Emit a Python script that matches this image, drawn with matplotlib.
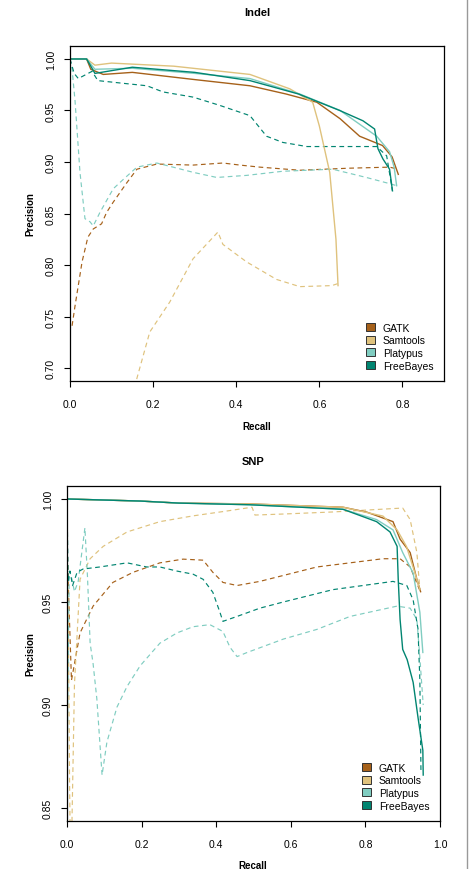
import matplotlib
matplotlib.use("Agg")
import matplotlib.pyplot as plt
from matplotlib.patches import Patch
from matplotlib.lines import Line2D

plt.rcParams['font.family'] = ['Liberation Sans', 'DejaVu Sans']

tools = ["GATK", "Samtools", "Platypus", "FreeBayes"]
colors = ["#A6611A", "#DFC27D", "#80CDC1", "#018571"]

# ---- Indel panel: (recall, precision) ----
indel_solid_x = {
    "GATK":      [0.0, 0.04, 0.05, 0.08, 0.15, 0.30, 0.433, 0.52, 0.594, 0.65, 0.697, 0.752, 0.775, 0.79],
    "Samtools":  [0.0, 0.04, 0.06, 0.10, 0.25, 0.433, 0.529, 0.584, 0.60, 0.625, 0.64, 0.645],
    "Platypus":  [0.0, 0.04, 0.06, 0.15, 0.30, 0.433, 0.553, 0.65, 0.738, 0.769, 0.78, 0.786],
    "FreeBayes": [0.0, 0.04, 0.06, 0.15, 0.30, 0.433, 0.55, 0.649, 0.705, 0.733, 0.741, 0.753, 0.769, 0.776],
}
indel_solid_y = {
    "GATK":      [1.0, 1.0, 0.99, 0.985, 0.987, 0.980, 0.974, 0.966, 0.958, 0.942, 0.925, 0.916, 0.905, 0.888],
    "Samtools":  [1.0, 1.0, 0.994, 0.996, 0.993, 0.985, 0.971, 0.958, 0.935, 0.89, 0.825, 0.78],
    "Platypus":  [1.0, 1.0, 0.990, 0.991, 0.986, 0.981, 0.966, 0.950, 0.925, 0.91, 0.895, 0.877],
    "FreeBayes": [1.0, 1.0, 0.986, 0.992, 0.987, 0.979, 0.966, 0.950, 0.94, 0.932, 0.913, 0.903, 0.893, 0.872],
}
indel_dash_x = {
    "GATK":      [0.005, 0.012, 0.029, 0.043, 0.056, 0.076, 0.088, 0.104, 0.137, 0.161, 0.209, 0.296, 0.368, 0.409, 0.457, 0.553, 0.673, 0.769, 0.79],
    "Samtools":  [0.14, 0.161, 0.192, 0.240, 0.296, 0.356, 0.368, 0.425, 0.497, 0.553, 0.63, 0.645],
    "Platypus":  [0.0, 0.005, 0.012, 0.024, 0.036, 0.048, 0.056, 0.072, 0.104, 0.128, 0.161, 0.209, 0.248, 0.296, 0.353, 0.425, 0.512, 0.632, 0.713, 0.769, 0.786],
    "FreeBayes": [0.0, 0.01, 0.02, 0.053, 0.067, 0.137, 0.185, 0.224, 0.296, 0.36, 0.433, 0.473, 0.512, 0.57, 0.738, 0.762, 0.776],
}
indel_dash_y = {
    "GATK":      [0.741, 0.760, 0.803, 0.827, 0.835, 0.840, 0.851, 0.861, 0.880, 0.893, 0.898, 0.897, 0.899, 0.897, 0.895, 0.892, 0.894, 0.895, 0.893],
    "Samtools":  [0.65, 0.69, 0.735, 0.764, 0.806, 0.832, 0.820, 0.803, 0.786, 0.779, 0.78, 0.782],
    "Platypus":  [1.0, 0.99, 0.96, 0.890, 0.845, 0.842, 0.838, 0.851, 0.874, 0.883, 0.895, 0.899, 0.895, 0.890, 0.885, 0.887, 0.891, 0.893, 0.885, 0.879, 0.877],
    "FreeBayes": [1.0, 0.986, 0.981, 0.988, 0.979, 0.976, 0.974, 0.968, 0.963, 0.955, 0.945, 0.925, 0.919, 0.915, 0.915, 0.906, 0.872],
}

# ---- SNP panel: (recall, precision) ----
snp_solid_x = {
    "GATK":      [0.0, 0.196, 0.30, 0.49, 0.74, 0.804, 0.874, 0.893, 0.92, 0.938, 0.948],
    "Samtools":  [0.0, 0.196, 0.30, 0.49, 0.74, 0.847, 0.885, 0.91, 0.933, 0.946],
    "Platypus":  [0.0, 0.196, 0.30, 0.49, 0.74, 0.83, 0.874, 0.90, 0.928, 0.946, 0.954],
    "FreeBayes": [0.0, 0.196, 0.30, 0.49, 0.74, 0.83, 0.866, 0.885, 0.888, 0.893, 0.90, 0.912, 0.928, 0.941, 0.954, 0.955],
}
snp_solid_y = {
    "GATK":      [1.0, 0.999, 0.998, 0.9976, 0.996, 0.9936, 0.989, 0.9805, 0.974, 0.961, 0.955],
    "Samtools":  [1.0, 0.999, 0.998, 0.9976, 0.996, 0.9917, 0.985, 0.977, 0.964, 0.956],
    "Platypus":  [1.0, 0.999, 0.998, 0.9972, 0.995, 0.990, 0.985, 0.974, 0.964, 0.945, 0.9255],
    "FreeBayes": [1.0, 0.999, 0.998, 0.9972, 0.995, 0.989, 0.984, 0.977, 0.961, 0.9415, 0.927, 0.922, 0.911, 0.894, 0.878, 0.866],
}
snp_dash_x = {
    "GATK":      [0.0, 0.005, 0.012, 0.02, 0.035, 0.07, 0.123, 0.177, 0.249, 0.311, 0.365, 0.391, 0.418, 0.456, 0.517, 0.67, 0.847, 0.893, 0.92, 0.945],
    "Samtools":  [0.0, 0.004, 0.007, 0.009, 0.013, 0.02, 0.035, 0.062, 0.097, 0.161, 0.249, 0.338, 0.43, 0.496, 0.504, 0.58, 0.713, 0.90, 0.92, 0.938, 0.946],
    "Platypus":  [0.0, 0.002, 0.006, 0.012, 0.02, 0.03, 0.048, 0.055, 0.062, 0.07, 0.08, 0.094, 0.107, 0.134, 0.161, 0.196, 0.249, 0.295, 0.338, 0.383, 0.418, 0.437, 0.456, 0.483, 0.58, 0.67, 0.759, 0.885, 0.92, 0.938, 0.945, 0.955],
    "FreeBayes": [0.0, 0.003, 0.008, 0.015, 0.027, 0.043, 0.088, 0.161, 0.214, 0.249, 0.295, 0.338, 0.365, 0.391, 0.41, 0.418, 0.456, 0.517, 0.58, 0.713, 0.874, 0.911, 0.928, 0.941, 0.946, 0.949],
}
snp_dash_y = {
    "GATK":      [0.98, 0.95, 0.912, 0.92, 0.935, 0.948, 0.9595, 0.9644, 0.969, 0.9708, 0.9703, 0.9644, 0.9595, 0.958, 0.960, 0.967, 0.971, 0.971, 0.967, 0.956],
    "Samtools":  [0.985, 0.93, 0.86, 0.83, 0.84, 0.91, 0.961, 0.971, 0.977, 0.984, 0.989, 0.9918, 0.9942, 0.996, 0.9922, 0.9927, 0.9937, 0.9956, 0.990, 0.974, 0.956],
    "Platypus":  [0.84, 0.90, 0.965, 0.962, 0.955, 0.96, 0.986, 0.962, 0.93, 0.92, 0.903, 0.866, 0.882, 0.899, 0.909, 0.919, 0.930, 0.935, 0.938, 0.939, 0.9357, 0.928, 0.9235, 0.9255, 0.932, 0.9367, 0.943, 0.948, 0.947, 0.9415, 0.9255, 0.9],
    "FreeBayes": [1.0, 0.96, 0.965, 0.958, 0.9644, 0.966, 0.967, 0.969, 0.967, 0.967, 0.965, 0.9635, 0.961, 0.9547, 0.945, 0.9406, 0.943, 0.947, 0.95, 0.956, 0.960, 0.958, 0.951, 0.937, 0.912, 0.867],
}

indel_xticks = [0.0, 0.2, 0.4, 0.6, 0.8]
indel_yticks = [0.70, 0.75, 0.80, 0.85, 0.90, 0.95, 1.00]
snp_xticks = [0.0, 0.2, 0.4, 0.6, 0.8, 1.0]
snp_yticks = [0.85, 0.90, 0.95, 1.00]


def draw_panel(ax, sx, sy, dx, dy, xlim, ylim, xticks, yticks):
    # dashed curves underneath, solid curves on top
    for tool, col in zip(tools, colors):
        ax.plot(dx[tool], dy[tool], color=col, lw=0.85, ls=(0, (4, 3)))
    for tool, col in zip(tools, colors):
        ax.plot(sx[tool], sy[tool], color=col, lw=1.0)
    ax.set_xlim(*xlim)
    ax.set_ylim(*ylim)
    ax.set_xticks(xticks)
    ax.set_xticklabels([f"{t:.1f}" for t in xticks])
    ax.set_yticks(yticks)
    ax.set_yticklabels([f"{t:.2f}" for t in yticks], rotation=90, va="center")
    ax.tick_params(axis="x", length=4, width=0.8, pad=9, labelsize=7.5)
    ax.tick_params(axis="y", length=4, width=0.8, pad=6, labelsize=7.5)
    for s in ax.spines.values():
        s.set_linewidth(0.9)
    handles = [Patch(facecolor=c, edgecolor="#333333", linewidth=0.7) for c in colors]
    ax.legend(handles, tools, loc="lower right", frameon=False, fontsize=7.5,
              handlelength=0.8, handleheight=0.8, handletextpad=0.8,
              labelspacing=0.25, borderaxespad=0.6)


fig = plt.figure(figsize=(4.7, 8.7), dpi=100)

ax1 = fig.add_axes([70 / 470, 1 - 382 / 870, 374 / 470, 335 / 870])
draw_panel(ax1, indel_solid_x, indel_solid_y, indel_dash_x, indel_dash_y,
           (0.0, 0.9), (0.6874, 1.0126), indel_xticks, indel_yticks)

ax2 = fig.add_axes([67 / 470, 1 - 822 / 870, 373 / 470, 335 / 870])
draw_panel(ax2, snp_solid_x, snp_solid_y, snp_dash_x, snp_dash_y,
           (0.0, 1.0), (0.8437, 1.0063), snp_xticks, snp_yticks)

# titles and axis labels
fig.text(257 / 470, 1 - 13 / 870, "Indel", ha="center", va="center", fontsize=8, fontweight="bold")
fig.text(253 / 470, 1 - 462 / 870, "SNP", ha="center", va="center", fontsize=8, fontweight="bold")
fig.text(257 / 470, 1 - 427 / 870, "Recall", ha="center", va="center", fontsize=7, fontweight="bold")
fig.text(253 / 470, 1 - 866 / 870, "Recall", ha="center", va="center", fontsize=7, fontweight="bold")
fig.text(30 / 470, 1 - 214 / 870, "Precision", ha="center", va="center", rotation=90, fontsize=7, fontweight="bold")
fig.text(30 / 470, 1 - 654 / 870, "Precision", ha="center", va="center", rotation=90, fontsize=7, fontweight="bold")

# right border line seen on the reference page
fig.add_artist(Line2D([466.5 / 470, 466.5 / 470], [0, 1], color="#999999", lw=1.0))

fig.savefig("out.png", dpi=100)
